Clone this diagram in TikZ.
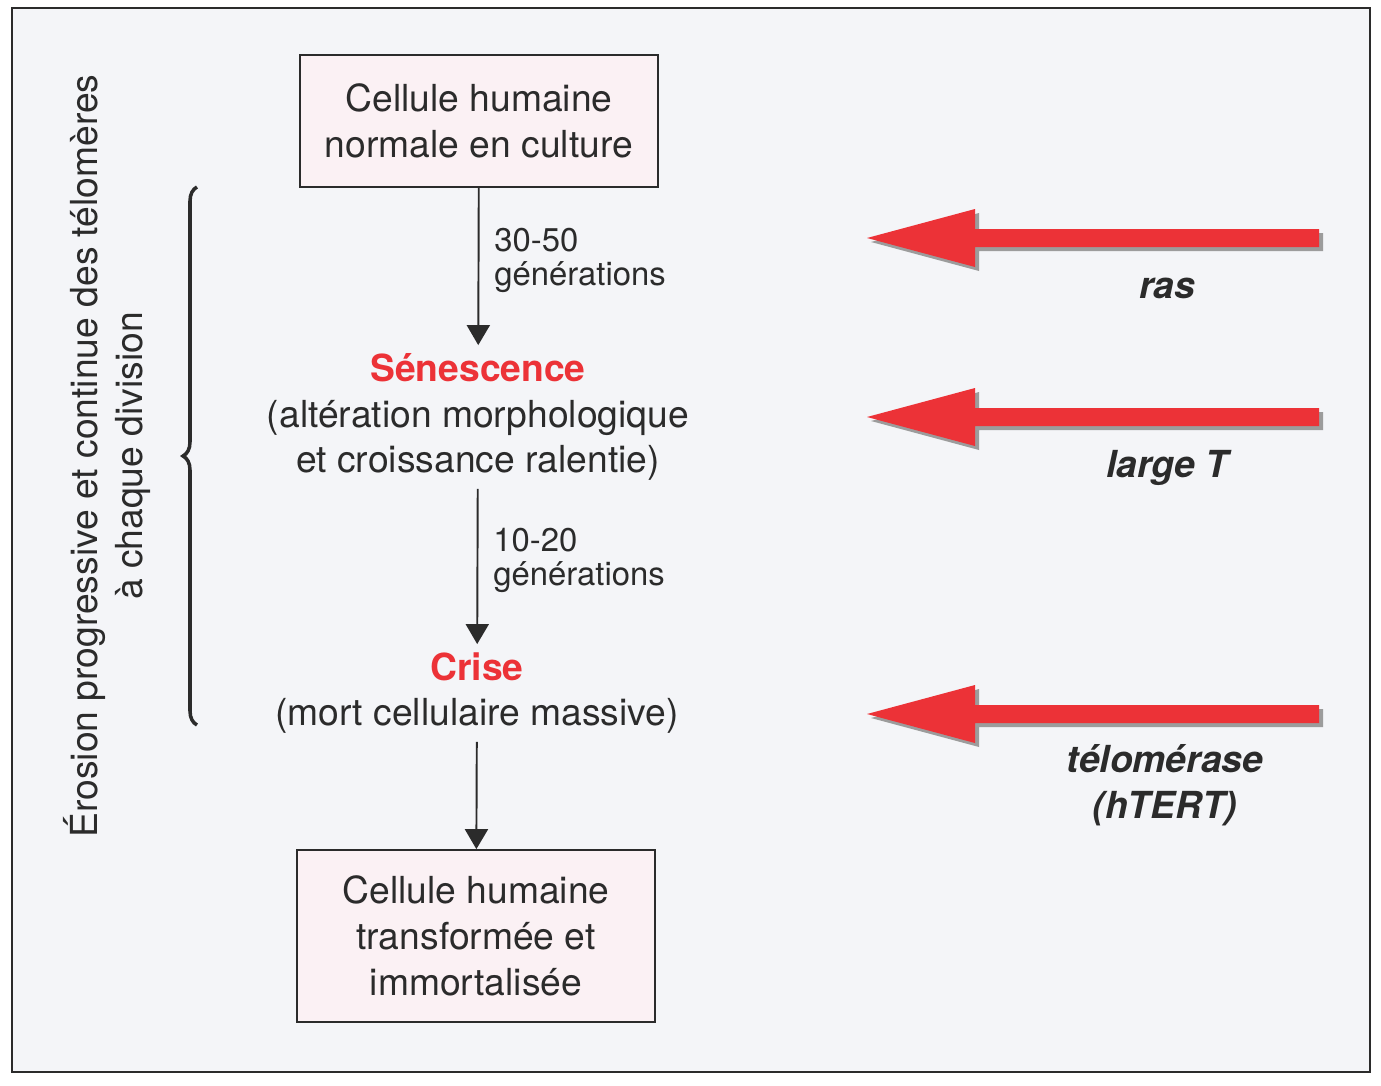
\documentclass[tikz,border=0pt]{standalone}
\usepackage{fontspec}
\setmainfont{TeX Gyre Heros}
\usetikzlibrary{arrows.meta,decorations.pathreplacing}
\definecolor{inkgray}{HTML}{2B2B2B}
\definecolor{alertred}{HTML}{EC3237}
\definecolor{boxpink}{HTML}{FBF1F4}
\definecolor{paper}{HTML}{F4F5F8}
\definecolor{shadowgray}{HTML}{9C9C9C}
\newcommand\mainsize{\fontsize{21.2}{26}\selectfont}
\newcommand\gensize{\fontsize{18.7}{19.5}\selectfont}
\tikzset{
	cellbox/.style={draw=inkgray, line width=1pt, fill=boxpink, align=center, font=\mainsize, text=inkgray, minimum width=7.16cm},
	stage/.style={align=center, font=\mainsize, text=inkgray, inner sep=4.5pt},
	flow/.style={draw=inkgray, line width=1.1pt, -{Triangle[length=0.4cm, width=0.46cm]}},
	gen/.style={right, align=left, font=\gensize, text=inkgray, xshift=0.18cm, yshift=0.12cm},
	agent/.style={anchor=base, font=\mainsize\bfseries\itshape, text=inkgray, align=center},
	redarrow/.style={fill=alertred},
	arrowshadow/.style={fill=shadowgray}
}
\begin{document}
\begin{tikzpicture}[x=0.02cm, y=0.02cm]
		\useasboundingbox (0,0) rectangle (1381,-1085);
		\fill[white] (0,0) rectangle (1381,-1085);
		\draw[draw=inkgray, line width=1.2pt, fill=paper] (12,-8) rectangle (1370,-1072);
		
		\node[cellbox, minimum height=2.64cm] (normal) at (479,-121) {Cellule humaine\\normale en culture};
		\node[stage] (senescence) at (478,-417) {\textcolor{alertred}{\bfseries Sénescence}\\(altération morphologique\\et croissance ralentie)};
		\node[stage] (crise) at (477,-693) {\textcolor{alertred}{\bfseries Crise}\\(mort cellulaire massive)};
		\node[cellbox, minimum height=3.44cm] (immortelle) at (476,-936) {Cellule humaine\\transformée et\\immortalisée};
		
		\draw[flow] (normal) -- (senescence) node[gen, midway] (gen1) {30-50\\générations};
		\draw[flow] (senescence) -- (crise) node[gen, midway] (gen2) {10-20\\générations};
		\draw[flow] (crise) -- (immortelle);
		
		\draw[draw=inkgray, line width=2pt, decorate, decoration={brace, amplitude=0.28cm}] (197,-725) -- (197,-187);
		\node[rotate=90, align=center, font=\mainsize, text=inkgray] (erosion) at (107,-456) {Érosion progressive et continue des télomères\\à chaque division};
		
		\foreach \ty in {238,417,714}{
			\fill[arrowshadow] (871,-\ty-4) -- ++(108,29) -- ++(0,-20) -- ++(344,0) -- ++(0,-18) -- ++(-344,0) -- ++(0,-20) -- cycle;
			\fill[redarrow] (867,-\ty) -- ++(108,29) -- ++(0,-20) -- ++(344,0) -- ++(0,-18) -- ++(-344,0) -- ++(0,-20) -- cycle;
		}
		\node[agent] (ras) at (1167,-298) {ras};
		\node[agent] (largeT) at (1167,-477) {large T};
		\node[agent] (telomerase) at (1165,-818) {télomérase\\(hTERT)};
		
	\end{tikzpicture}
\end{document}
